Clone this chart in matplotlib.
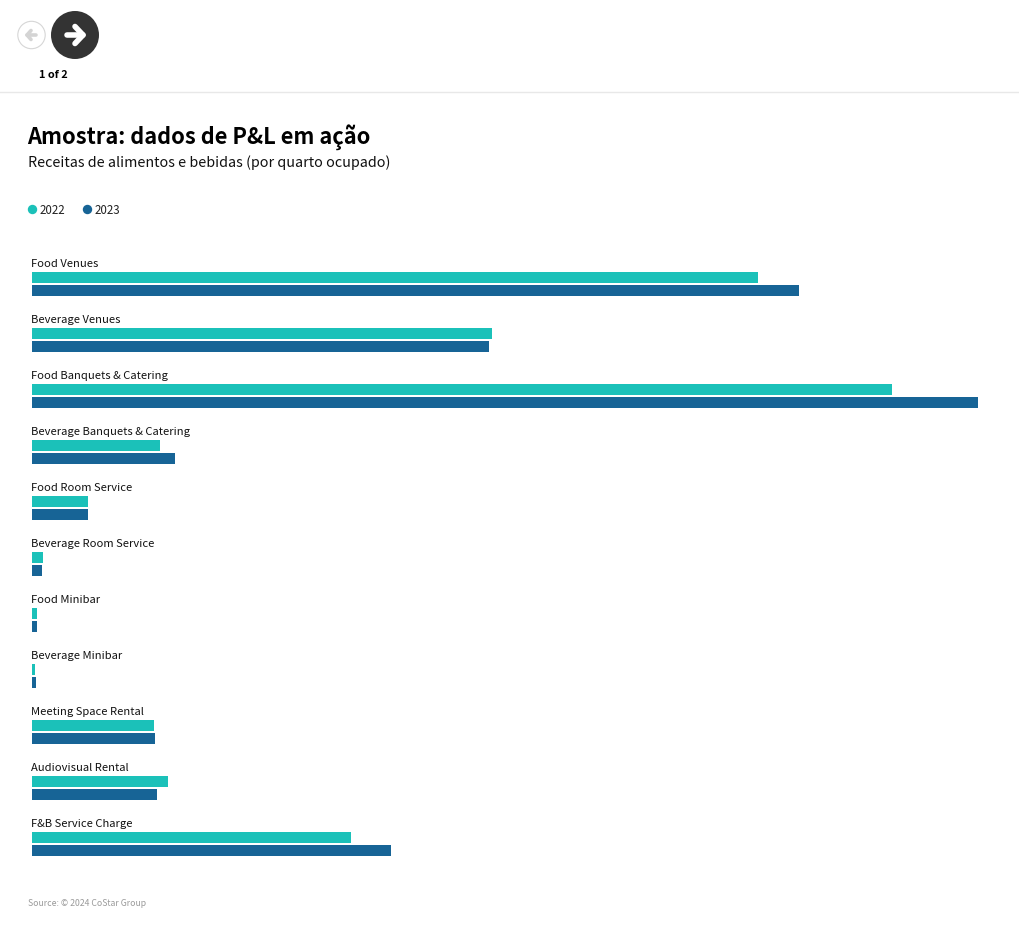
import matplotlib
matplotlib.use('Agg')
import matplotlib.pyplot as plt
from matplotlib.patches import Circle

plt.rcParams['font.family'] = ['Noto Sans CJK SC', 'DejaVu Sans']

categories = ['Food Venues', 'Beverage Venues', 'Food Banquets & Catering',
              'Beverage Banquets & Catering', 'Food Room Service',
              'Beverage Room Service', 'Food Minibar', 'Beverage Minibar',
              'Meeting Space Rental', 'Audiovisual Rental', 'F&B Service Charge']
# no scale on the chart, values are read as bar lengths
values_2022 = [726, 460, 860.5, 128, 56, 11.5, 5, 3, 122, 136.5, 319.5]
values_2023 = [767.5, 457, 946.5, 143.5, 56, 10.5, 5, 4, 123.5, 125.5, 359]
series_names = ['2022', '2023']

COL_2022 = '#1bc1b9'
COL_2023 = '#176496'
W, H = 1020, 930

fig = plt.figure(figsize=(W / 100, H / 100), dpi=100, facecolor='white')

# page furniture, in pixel coordinates
bg = fig.add_axes([0, 0, 1, 1])
bg.set_xlim(0, W)
bg.set_ylim(H, 0)
bg.axis('off')

bg.plot([0, W], [92.5, 92.5], color='#e8e8e8', lw=1)

bg.add_patch(Circle((31.5, 35), 13.7, fc='white', ec='#d6d6d6', lw=0.8))
bg.plot([36.5, 27], [35, 35], color='#d4d4d4', lw=2.6, solid_capstyle='round')
bg.plot([31, 27, 31], [30.5, 35, 39.5], color='#d4d4d4', lw=2.6,
        solid_capstyle='round', solid_joinstyle='round')

bg.add_patch(Circle((75, 35), 24, fc='#333333', ec='none'))
bg.plot([67, 83], [35, 35], color='white', lw=4, solid_capstyle='round')
bg.plot([75, 83, 75], [26.5, 35, 43.5], color='white', lw=4,
        solid_capstyle='round', solid_joinstyle='round')

bg.text(53, 74.5, '1 of 2', fontsize=7.8, fontweight='bold', ha='center', va='center', color='black')
bg.text(27.5, 137.5, 'Amostra: dados de P&L em ação', fontsize=15.7, fontweight='bold', va='center', color='black')
bg.text(28, 163, 'Receitas de alimentos e bebidas (por quarto ocupado)', fontsize=10.3, va='center', color='#111111')

bg.add_patch(Circle((32.5, 209.5), 4.7, fc=COL_2022, ec='none'))
bg.text(39.3, 210.5, series_names[0], fontsize=8.3, va='center', color='#222222')
bg.add_patch(Circle((87.5, 209.5), 4.7, fc=COL_2023, ec='none'))
bg.text(94.3, 210.5, series_names[1], fontsize=8.3, va='center', color='#222222')

bg.text(28, 903, 'Source: © 2024 CoStar Group', fontsize=6.25, va='center', color='#9a9a9a')

# bars: each row is 56 px, first row starts at y=256
row = 56
ax_top = 256
ax = fig.add_axes([31.7 / W, 1 - (ax_top + row * len(categories)) / H, 946.5 / W, row * len(categories) / H])
ax.patch.set_alpha(0)
ax.set_xlim(0, 946.5)
ax.set_ylim(len(categories), 0)
ax.axis('off')

for i, name in enumerate(categories):
    ax.barh(i + 21.5 / row, values_2022[i], height=11.5 / row, color=COL_2022)
    ax.barh(i + 34.5 / row, values_2023[i], height=11.5 / row, color=COL_2023)
    ax.text(-0.5, i + 8 / row, name, fontsize=8.05, va='center', color='#111111')

fig.savefig('out.png', dpi=100, facecolor='white')
